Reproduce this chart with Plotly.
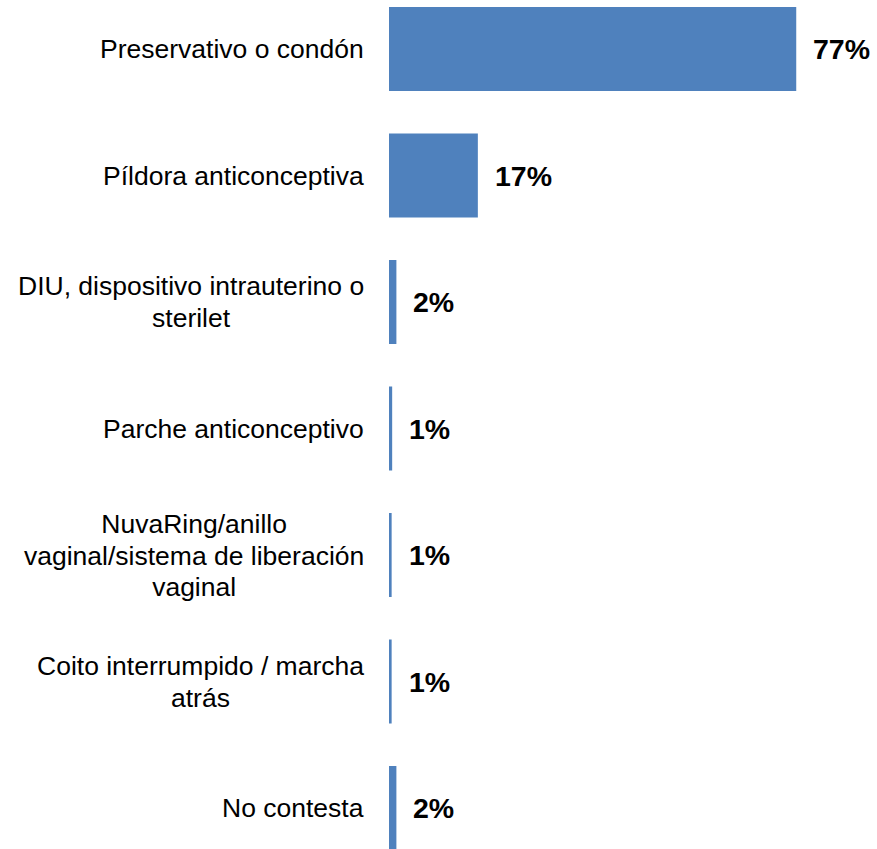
import plotly.graph_objects as go

category_lines = [
    ["Preservativo o condón"],
    ["Píldora anticonceptiva"],
    ["DIU, dispositivo intrauterino o", "sterilet"],
    ["Parche anticonceptivo"],
    ["NuvaRing/anillo", "vaginal/sistema de liberación", "vaginal"],
    ["Coito interrumpido / marcha", "atrás"],
    ["No contesta"],
]
categories = [" ".join(lines) for lines in category_lines]
values = [77.0, 16.8, 1.4, 0.6, 0.5, 0.5, 1.4]
value_labels = ["77%", "17%", "2%", "1%", "1%", "1%", "2%"]

FONT = "Liberation Sans, Arial, sans-serif"
BAR_COLOR = "#4F81BD"
LABEL_SIZE = 26.5
LINE_HEIGHT = 31.5

fig = go.Figure()
fig.add_trace(go.Bar(
    x=values,
    y=categories,
    orientation="h",
    marker=dict(color=BAR_COLOR, line=dict(width=0)),
    hoverinfo="skip",
))

annotations = []
for cat, lines, val, lab in zip(categories, category_lines, values, value_labels):
    annotations.append(dict(
        x=val, y=cat, xref="x", yref="y",
        text="<b>" + lab + "</b>", showarrow=False,
        xanchor="left", yanchor="middle", xshift=15,
        font=dict(family=FONT, size=28.5, color="#000000"),
    ))
    text = "<br>".join(
        '<span style="font-size:%.1fpx">%s</span>' % (LABEL_SIZE, ln) for ln in lines
    )
    annotations.append(dict(
        x=0, y=cat, xref="paper", yref="y",
        text=text, showarrow=False, align="center",
        xanchor="right", yanchor="middle", xshift=-23,
        font=dict(family=FONT, size=LINE_HEIGHT / 1.3, color="#000000"),
    ))

step_px = 126.5
height = 849
top_center_px = 49
top = -top_center_px / step_px
bottom = top + height / step_px

fig.update_layout(
    width=877, height=849,
    margin=dict(l=389, r=12, t=0, b=0, autoexpand=False),
    paper_bgcolor="white", plot_bgcolor="white",
    showlegend=False,
    bargap=0.336,
    xaxis=dict(range=[0, 90], visible=False, fixedrange=True),
    yaxis=dict(
        type="category",
        categoryorder="array", categoryarray=categories,
        range=[bottom, top],
        showticklabels=False, showgrid=False, zeroline=False, showline=False,
        ticks="",
    ),
    annotations=annotations,
)

fig.write_html(
    "out.html",
    config={"displayModeBar": False},
    post_script="document.body.style.margin='0';document.body.style.overflow='hidden';",
)
